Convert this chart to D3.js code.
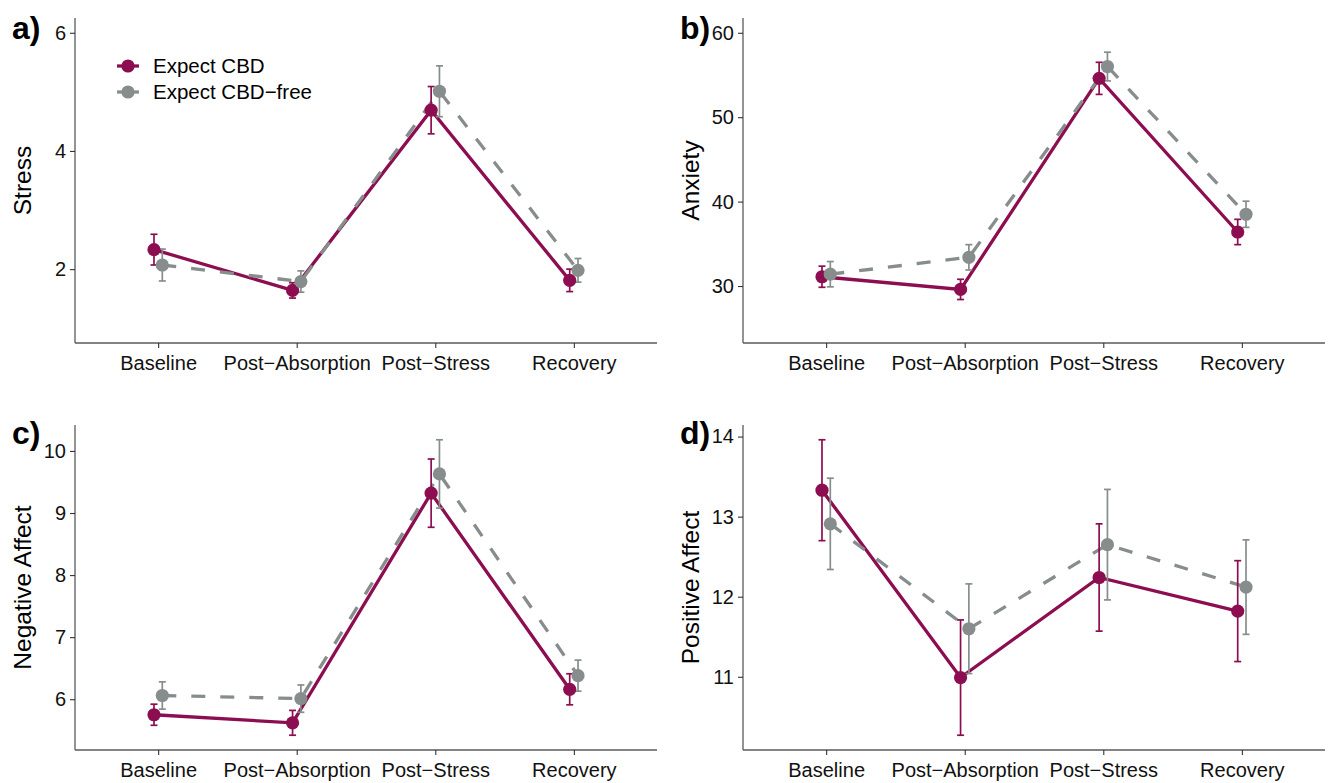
<!DOCTYPE html>
<html lang="en">
<head>
    <meta charset="UTF-8">
    <title>CBD expectancy outcomes</title>
    <script src="https://d3js.org/d3.v7.min.js"></script>
    <style>
        body { margin: 0; background: #fff; }
        text { font-family: "Liberation Sans", Arial, Helvetica, sans-serif; }
    </style>
</head>
<body>
<div id="chart"></div>
<script>

    // categories and groups
    const timepoints = ["Baseline", "Post\u2212Absorption", "Post\u2212Stress", "Recovery"];
    const groups = ["Expect CBD", "Expect CBD\u2212free"];

    // means and error half widths
    const stressCBD = [2.33, 1.64, 4.69, 1.81];
    const stressCBDErr = [0.26, 0.13, 0.40, 0.19];
    const stressFree = [2.07, 1.79, 5.01, 1.98];
    const stressFreeErr = [0.27, 0.18, 0.43, 0.20];

    const anxietyCBD = [31.1, 29.6, 54.6, 36.4];
    const anxietyCBDErr = [1.25, 1.2, 1.9, 1.5];
    const anxietyFree = [31.4, 33.4, 56.0, 38.5];
    const anxietyFreeErr = [1.5, 1.5, 1.7, 1.55];

    const negCBD = [5.75, 5.62, 9.32, 6.16];
    const negCBDErr = [0.17, 0.20, 0.55, 0.25];
    const negFree = [6.06, 6.01, 9.63, 6.38];
    const negFreeErr = [0.22, 0.22, 0.55, 0.25];

    const posCBD = [13.33, 10.99, 12.24, 11.82];
    const posCBDErr = [0.63, 0.72, 0.67, 0.63];
    const posFree = [12.91, 11.60, 12.65, 12.12];
    const posFreeErr = [0.57, 0.56, 0.69, 0.59];

    // y ticks and fixed limits (null = from data)
    const stressTicks = [2, 4, 6];
    const anxietyTicks = [30, 40, 50, 60];
    const negTicks = [6, 7, 8, 9, 10];
    const posTicks = [11, 12, 13, 14];
    const stressLimits = [1, 6];
    const anxietyLimits = [25, 60];

    const colors = ["#8c0e51", "#878d8d"];
    const dodge = [-0.03, 0.03];

    const panels = [
        {tag: "a)", title: "Stress", series: [[stressCBD, stressCBDErr], [stressFree, stressFreeErr]],
            ticks: stressTicks, limits: stressLimits, x: 75, y: 18, legend: true},
        {tag: "b)", title: "Anxiety", series: [[anxietyCBD, anxietyCBDErr], [anxietyFree, anxietyFreeErr]],
            ticks: anxietyTicks, limits: anxietyLimits, x: 743, y: 18},
        {tag: "c)", title: "Negative Affect", series: [[negCBD, negCBDErr], [negFree, negFreeErr]],
            ticks: negTicks, limits: null, x: 75, y: 425},
        {tag: "d)", title: "Positive Affect", series: [[posCBD, posCBDErr], [posFree, posFreeErr]],
            ticks: posTicks, limits: null, x: 743, y: 425}
    ];

    const W = 1328, H = 783;
    const pw = 582, ph = 325;

    const svg = d3.select("#chart").append("svg")
        .attr("width", W)
        .attr("height", H);

    function drawPanel(p) {
        const g = svg.append("g").attr("transform", `translate(${p.x},${p.y})`);

        let lo, hi;
        if (p.limits) {
            lo = p.limits[0]; hi = p.limits[1];
        } else {
            lo = d3.min(p.series, s => d3.min(s[0], (v, i) => v - s[1][i]));
            hi = d3.max(p.series, s => d3.max(s[0], (v, i) => v + s[1][i]));
        }
        const pad = (hi - lo) * 0.05;

        const x = d3.scalePoint().domain(timepoints).range([0, pw]).padding(0.6);
        const y = d3.scaleLinear().domain([lo - pad, hi + pad]).range([ph, 0]);

        // axes
        const xAxis = g.append("g")
            .attr("transform", `translate(0,${ph})`)
            .call(d3.axisBottom(x).tickSize(5).tickPadding(8));
        const yAxis = g.append("g")
            .call(d3.axisLeft(y).tickValues(p.ticks).tickFormat(d3.format("d")).tickSize(5).tickPadding(4));
        [xAxis, yAxis].forEach(a => {
            a.select(".domain").attr("stroke", "#5a5a5a").attr("stroke-width", 1.3);
            a.selectAll(".tick line").attr("stroke", "#333").attr("stroke-width", 1.1);
            a.selectAll(".tick text")
                .attr("fill", "#111")
                .attr("font-size", 20)
                .attr("font-family", "Liberation Sans, Arial, sans-serif");
        });
        yAxis.select(".domain").attr("d", `M0,${ph}V0`);
        xAxis.select(".domain").attr("d", `M0,0H${pw}`);

        // y title
        g.append("text")
            .attr("transform", `translate(${-53},${ph / 2}) rotate(-90)`)
            .attr("text-anchor", "middle")
            .attr("dy", "0.35em")
            .attr("font-size", 24.5)
            .attr("fill", "#000")
            .text(p.title);

        // panel tag
        g.append("text")
            .attr("x", -63)
            .attr("y", p.y < 100 ? 21 : 19)
            .attr("font-size", 32)
            .attr("font-weight", "bold")
            .attr("fill", "#000")
            .text(p.tag);

        const px = (i, k) => x(timepoints[i]) + dodge[k] * x.step();

        // lines
        p.series.forEach((s, k) => {
            const line = d3.line()
                .x((d, i) => px(i, k))
                .y(d => y(d));
            g.append("path")
                .datum(s[0])
                .attr("d", line)
                .attr("fill", "none")
                .attr("stroke", colors[k])
                .attr("stroke-width", 3.3)
                .attr("stroke-dasharray", k === 1 ? "14,15" : null);
        });

        // error bars
        p.series.forEach((s, k) => {
            const eb = g.append("g").attr("stroke", colors[k]).attr("stroke-width", 1.7);
            s[0].forEach((v, i) => {
                const cx = px(i, k);
                const y0 = y(v - s[1][i]), y1 = y(v + s[1][i]);
                eb.append("line").attr("x1", cx).attr("x2", cx).attr("y1", y0).attr("y2", y1);
                eb.append("line").attr("x1", cx - 3.5).attr("x2", cx + 3.5).attr("y1", y0).attr("y2", y0);
                eb.append("line").attr("x1", cx - 3.5).attr("x2", cx + 3.5).attr("y1", y1).attr("y2", y1);
            });
        });

        // points
        p.series.forEach((s, k) => {
            g.append("g").selectAll("circle")
                .data(s[0])
                .enter().append("circle")
                .attr("cx", (d, i) => px(i, k))
                .attr("cy", d => y(d))
                .attr("r", 6.6)
                .attr("fill", colors[k]);
        });

        if (p.legend) {
            const lg = g.append("g").attr("transform", "translate(53,48)");
            groups.forEach((name, k) => {
                const row = lg.append("g").attr("transform", `translate(0,${k * 26})`);
                row.append("line")
                    .attr("x1", -11).attr("x2", 11)
                    .attr("stroke", colors[k]).attr("stroke-width", 3.3);
                row.append("circle").attr("r", 6.6).attr("fill", colors[k]);
                row.append("text")
                    .attr("x", 25)
                    .attr("dy", "0.35em")
                    .attr("font-size", 20.5)
                    .attr("fill", "#000")
                    .text(name);
            });
        }
    }

    panels.forEach(drawPanel);

</script>
</body>
</html>
